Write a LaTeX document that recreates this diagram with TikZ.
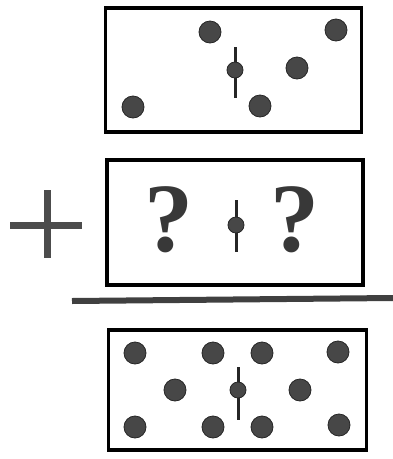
\documentclass[tikz,border=0pt]{standalone}
\usepackage{fontspec}
\setmainfont{Liberation Serif}
\begin{document}
\begin{tikzpicture}[x=1pt,y=-1pt,
  frame/.style={draw=black,line width=3.5pt},
  ball/.style={circle,fill=black!72,draw=black!85,line width=0.8pt,minimum size=22pt,inner sep=0pt},
  cdot/.style={circle,fill=black!72,draw=black!85,line width=0.8pt,minimum size=16pt,inner sep=0pt},
  axis/.style={line width=3pt,draw=black!85},
  bar/.style={line width=7pt,draw=black!70},
  qm/.style={inner sep=0pt,text=black!78,font=\fontsize{98}{98}\bfseries\selectfont}]
\useasboundingbox (0,0) rectangle (393,459);
% box 1
\node[frame,minimum width=256pt,minimum height=124pt,inner sep=0pt] (b1) at (233.5,70) {};
\coordinate (a1t) at (235,47); \coordinate (a1b) at (235,98);
\draw[axis] (a1t) -- (a1b);
\node[cdot] (c1) at (235,70) {};
\node[ball] (p1) at (210,32) {};
\node[ball] (p2) at (336,30) {};
\node[ball] (p3) at (297,68) {};
\node[ball] (p4) at (133,107) {};
\node[ball] (p5) at (260,106) {};
% plus sign
\coordinate (hl) at (10,225); \coordinate (hr) at (82,225);
\coordinate (vt) at (47,190); \coordinate (vb) at (47,258);
\draw[bar] (hl) -- (hr);
\draw[bar] (vt) -- (vb);
% box 2
\node[frame,minimum width=256pt,minimum height=125pt,inner sep=0pt] (b2) at (235,222.5) {};
\coordinate (a2t) at (236,200); \coordinate (a2b) at (236,252);
\draw[axis] (a2t) -- (a2b);
\node[cdot] (c2) at (236,225) {};
\node[qm] (q1) at (169,220) {?};
\node[qm] (q2) at (295,220) {?};
% rule
\coordinate (rl) at (72,301); \coordinate (rr) at (393,298);
\draw[line width=6pt,draw=black!75] (rl) -- (rr);
% box 3
\node[frame,minimum width=258pt,minimum height=120pt,inner sep=0pt] (b3) at (237.5,390) {};
\coordinate (a3t) at (238,367); \coordinate (a3b) at (238,420);
\draw[axis] (a3t) -- (a3b);
\node[cdot] (c3) at (238,390) {};
\node[ball] (r1) at (135,353) {};
\node[ball] (r2) at (213,353) {};
\node[ball] (r3) at (262,353) {};
\node[ball] (r4) at (338,352) {};
\node[ball] (r5) at (175,390) {};
\node[ball] (r6) at (300,390) {};
\node[ball] (r7) at (135,427) {};
\node[ball] (r8) at (213,427) {};
\node[ball] (r9) at (262,427) {};
\node[ball] (r10) at (339,425) {};
\end{tikzpicture}
\end{document}
